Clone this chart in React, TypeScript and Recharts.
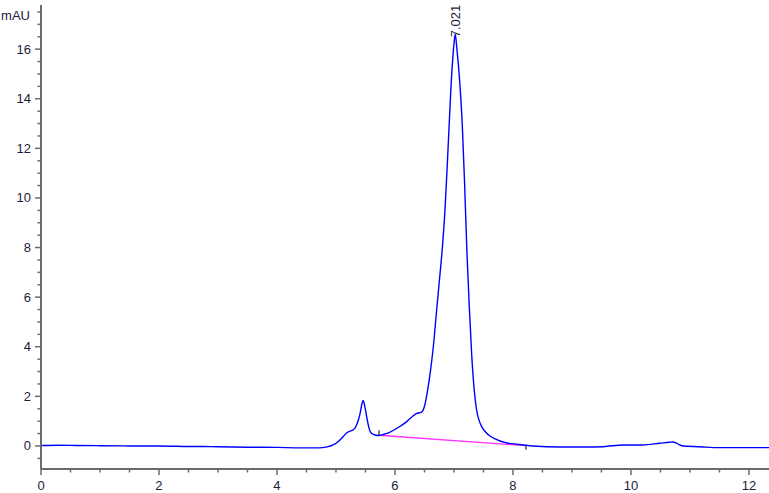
import React from 'react';
import { LineChart, Line, XAxis, YAxis, ReferenceDot } from 'recharts';

// retention time (min) and absorbance (mAU)
const times = [
  0, 0.3, 0.6, 1.0, 1.5, 2.0, 2.5, 3.0, 3.5, 4.0, 4.4, 4.7, 4.85, 4.95, 5.05, 5.12, 5.18, 5.24, 5.3, 5.36,
  5.41, 5.44, 5.46, 5.48, 5.5, 5.53, 5.56, 5.6, 5.66, 5.72, 5.8, 5.9, 6.03, 6.2, 6.3, 6.36, 6.45, 6.5, 6.55, 6.6,
  6.65, 6.7, 6.75, 6.8, 6.85, 6.9, 6.95, 7.0, 7.021, 7.05, 7.1, 7.14, 7.18, 7.22, 7.26, 7.3, 7.34, 7.38, 7.43, 7.47,
  7.54, 7.61, 7.7, 7.78, 7.9, 8.06, 8.34, 8.8, 9.2, 9.53, 9.87, 10.2, 10.49, 10.65, 10.71, 10.78, 10.86, 11.17, 11.5,
  12.34,
];
const mau = [
  0.02, 0.03, 0.02, 0.01, 0.0, 0.0, -0.02, -0.03, -0.05, -0.06, -0.08, -0.08, -0.04, 0.04, 0.2, 0.37, 0.52, 0.6, 0.66, 0.9,
  1.32, 1.7, 1.83, 1.7, 1.45, 1.05, 0.72, 0.51, 0.44, 0.42, 0.46, 0.54, 0.71, 0.98, 1.2, 1.3, 1.36, 1.6, 2.2, 3.0,
  4.0, 5.3, 6.6, 7.9, 9.6, 12.0, 14.5, 16.2, 16.6, 16.0, 14.6, 13.0, 10.6, 7.8, 5.6, 3.7, 2.35, 1.5, 1.0, 0.78,
  0.55, 0.4, 0.28, 0.2, 0.12, 0.07, 0.0, -0.04, -0.04, -0.03, 0.04, 0.04, 0.11, 0.15, 0.16, 0.1, 0.01, -0.03, -0.07,
  -0.07,
];

// integration baseline under the main peak
const baseTimes = [5.73, 8.22];
const baseMau = [0.43, 0.01];

const peakTime = 7.021;
const peakMau = 16.6;
const peakLabel = '7.021';

const xTicks = [
  0, 0.5, 1, 1.5, 2, 2.5, 3, 3.5, 4, 4.5, 5, 5.5, 6, 6.5, 7, 7.5, 8, 8.5, 9, 9.5, 10, 10.5, 11, 11.5, 12,
];
const yTicks = [
  -0.5, 0, 0.5, 1, 1.5, 2, 2.5, 3, 3.5, 4, 4.5, 5, 5.5, 6, 6.5, 7, 7.5, 8, 8.5, 9, 9.5, 10, 10.5, 11, 11.5,
  12, 12.5, 13, 13.5, 14, 14.5, 15, 15.5, 16, 16.5, 17, 17.5,
];

const trace = times.map((t, i) => ({ t, v: mau[i] }));
const baseline = baseTimes.map((t, i) => ({ t, v: baseMau[i] }));

const AXIS = '#6b6b6b';
const TEXT = '#1c1c3c';
const FONT = '"Liberation Sans", Arial, sans-serif';

const isMajor = (v: number) => Math.abs(v % 2) < 1e-9;

const XTick = (props: any) => {
  const { x, y, payload } = props;
  const v = payload.value;
  const major = isMajor(v);
  return (
    <g>
      <line x1={x} y1={y} x2={x} y2={y + (major ? 6 : 3.5)} stroke={AXIS} strokeWidth={1.5} />
      {major && (
        <text x={x} y={y + 21} textAnchor="middle" fill={TEXT} fontSize={13} fontFamily={FONT}>
          {v}
        </text>
      )}
    </g>
  );
};

const YTick = (props: any) => {
  const { x, y, payload } = props;
  const v = payload.value;
  const major = isMajor(v);
  return (
    <g>
      <line x1={x} y1={y} x2={x - (major ? 6 : 3.5)} y2={y} stroke={AXIS} strokeWidth={1.5} />
      {major && (
        <text x={x - 10} y={y} dy="0.35em" textAnchor="end" fill={TEXT} fontSize={13} fontFamily={FONT}>
          {v}
        </text>
      )}
    </g>
  );
};

// little start/end markers of the integration baseline
const BaseMark = (props: any) => {
  const { cx, cy, index } = props;
  if (cx == null || cy == null) return null;
  return index === 0 ? (
    <line key="s" x1={cx} y1={cy} x2={cx} y2={cy - 5} stroke="#000" strokeWidth={1} />
  ) : (
    <line key="e" x1={cx} y1={cy} x2={cx} y2={cy + 4} stroke="#000" strokeWidth={1} />
  );
};

const PeakLabel = (props: any) => {
  const { cx, cy } = props;
  const x = cx + 5;
  const y = cy + 3;
  return (
    <text
      x={x}
      y={y}
      transform={`rotate(-90 ${x} ${y})`}
      textAnchor="start"
      fill={TEXT}
      fontSize={13}
      fontFamily={FONT}
    >
      {peakLabel}
    </text>
  );
};

export default function App() {
  return (
    <div style={{ position: 'absolute', left: 0, top: 0, width: 769, height: 493, background: '#fff' }}>
      <LineChart width={769} height={493} data={trace} margin={{ top: 5, right: 0, bottom: 0, left: 0 }}>
        <XAxis
          type="number"
          dataKey="t"
          domain={[0, 12.34]}
          ticks={xTicks}
          interval={0}
          height={24}
          tickSize={0}
          tickMargin={0}
          tickLine={false}
          axisLine={{ stroke: AXIS, strokeWidth: 2 }}
          tick={<XTick />}
          allowDataOverflow
        />
        <YAxis
          type="number"
          domain={[-0.93, 17.78]}
          ticks={yTicks}
          interval={0}
          width={41}
          tickSize={0}
          tickMargin={0}
          tickLine={false}
          axisLine={{ stroke: AXIS, strokeWidth: 2 }}
          tick={<YTick />}
          allowDataOverflow
          label={{
            content: (p: any) => (
              <text
                x={(p.viewBox?.x ?? 0) + 30}
                y={(p.viewBox?.y ?? 5) + 14.5}
                textAnchor="end"
                fill={TEXT}
                fontSize={13}
                fontFamily={FONT}
              >
                mAU
              </text>
            ),
          }}
        />
        <Line
          data={baseline}
          dataKey="v"
          type="linear"
          stroke="#ff33ff"
          strokeWidth={1.3}
          dot={<BaseMark />}
          activeDot={false}
          isAnimationActive={false}
        />
        <Line
          dataKey="v"
          type="monotone"
          stroke="#0000ff"
          strokeWidth={1.4}
          dot={false}
          activeDot={false}
          isAnimationActive={false}
        />
        <ReferenceDot x={peakTime} y={peakMau} r={0} shape={<PeakLabel />} />
      </LineChart>
    </div>
  );
}
